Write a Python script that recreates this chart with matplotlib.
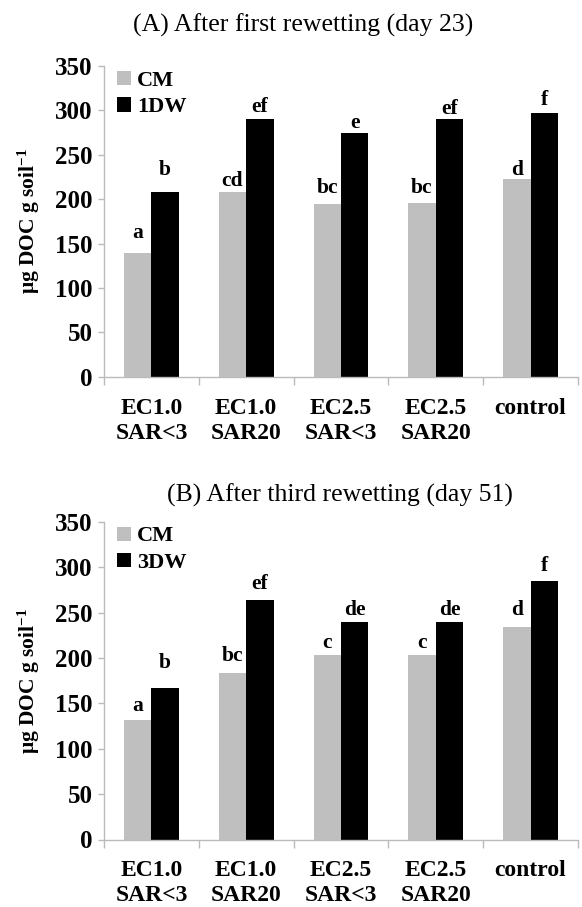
import matplotlib
matplotlib.use("Agg")
import matplotlib.pyplot as plt
import numpy as np

plt.rcParams["font.family"] = ["Liberation Serif", "DejaVu Serif"]
plt.rcParams["mathtext.fontset"] = "custom"
plt.rcParams["mathtext.rm"] = "Liberation Serif"
plt.rcParams["mathtext.bf"] = "Liberation Serif:bold"
plt.rcParams["mathtext.default"] = "bf"

# Treatments (x categories)
categories = ["EC1.0\nSAR<3", "EC1.0\nSAR20", "EC2.5\nSAR<3", "EC2.5\nSAR20", "control"]

# (A) After first rewetting (day 23), µg DOC g soil-1
cm_a = [139, 208, 194, 196, 223]
dw1_a = [208, 290, 275, 290, 297]
cm_a_letters = ["a", "cd", "bc", "bc", "d"]
dw1_a_letters = ["b", "ef", "e", "ef", "f"]

# (B) After third rewetting (day 51)
cm_b = [132, 183, 203, 203, 234]
dw3_b = [167, 264, 240, 240, 285]
cm_b_letters = ["a", "bc", "c", "c", "d"]
dw3_b_letters = ["b", "ef", "de", "de", "f"]

# vertical gap (points) between each bar top and its letter
cm_a_lift = [11, 4, 8, 7, 3]
dw1_a_lift = [12, 5, 3, 4, 6]
cm_b_lift = [6, 9, 5, 5, 9]
dw3_b_lift = [14, 8, 5, 5, 7]

GRAY = "#BFBFBF"
AXIS = "#BBBBBB"
W = 0.29

fig = plt.figure(figsize=(5.82, 9.07), dpi=100)

left, width = 104 / 582, 474 / 582
ax_a = fig.add_axes([left, (907 - 376.7) / 907, width, 310.7 / 907])
ax_b = fig.add_axes([left, (907 - 839.5) / 907, width, 317.8 / 907])


def panel(ax, cm, dw, cm_lab, dw_lab, cm_lift, dw_lift, dw_name):
    x = np.arange(len(categories))
    ax.bar(x - W / 2, cm, W, color=GRAY, label="CM", zorder=2)
    ax.bar(x + W / 2, dw, W, color="black", label=dw_name, zorder=2)
    for xi, v, t, lf in zip(x - W / 2, cm, cm_lab, cm_lift):
        ax.annotate(t, (xi, v), xytext=(0, lf), textcoords="offset points",
                    ha="center", va="baseline", fontsize=15.5, fontweight="bold")
    for xi, v, t, lf in zip(x + W / 2, dw, dw_lab, dw_lift):
        ax.annotate(t, (xi, v), xytext=(0, lf), textcoords="offset points",
                    ha="center", va="baseline", fontsize=15.5, fontweight="bold")

    ax.set_xlim(-0.5, len(categories) - 0.5)
    ax.set_ylim(0, 350)
    ax.set_yticks(np.arange(0, 351, 50))
    ax.set_xticks(x)
    ax.set_xticklabels(categories, fontsize=17, fontweight="bold", linespacing=1.25)
    ax.set_xticks(np.arange(-0.5, len(categories), 1.0), minor=True)
    ax.tick_params(axis="x", which="major", length=0, pad=15)
    ax.tick_params(axis="x", which="minor", length=6, width=1, color=AXIS, direction="out")
    ax.tick_params(axis="y", length=4, width=1, color=AXIS, pad=4, labelsize=18)
    for lbl in ax.get_yticklabels():
        lbl.set_fontweight("bold")
    for s in ("top", "right"):
        ax.spines[s].set_visible(False)
    for s in ("left", "bottom"):
        ax.spines[s].set_color(AXIS)
        ax.spines[s].set_linewidth(1)

    ax.set_ylabel("μg DOC g soil$^{-1}$", fontsize=15.5, fontweight="bold")
    ax.yaxis.set_label_coords(-0.13, 0.5)

    ax.legend(loc="upper left", bbox_to_anchor=(0.028, 0.985), frameon=False,
              prop={"weight": "bold", "size": 16}, handlelength=0.6,
              handleheight=0.6, handletextpad=0.3, labelspacing=0.3,
              borderaxespad=0.0, borderpad=0.0)


panel(ax_a, cm_a, dw1_a, cm_a_letters, dw1_a_letters, cm_a_lift, dw1_a_lift, "1DW")
panel(ax_b, cm_b, dw3_b, cm_b_letters, dw3_b_letters, cm_b_lift, dw3_b_lift, "3DW")

fig.text(303 / 582, (907 - 32) / 907, "(A) After first rewetting (day 23)",
         ha="center", va="baseline", fontsize=18.5)
fig.text(340 / 582, (907 - 502) / 907, "(B) After third rewetting (day 51)",
         ha="center", va="baseline", fontsize=18.5)

fig.savefig("out.png", dpi=100)
